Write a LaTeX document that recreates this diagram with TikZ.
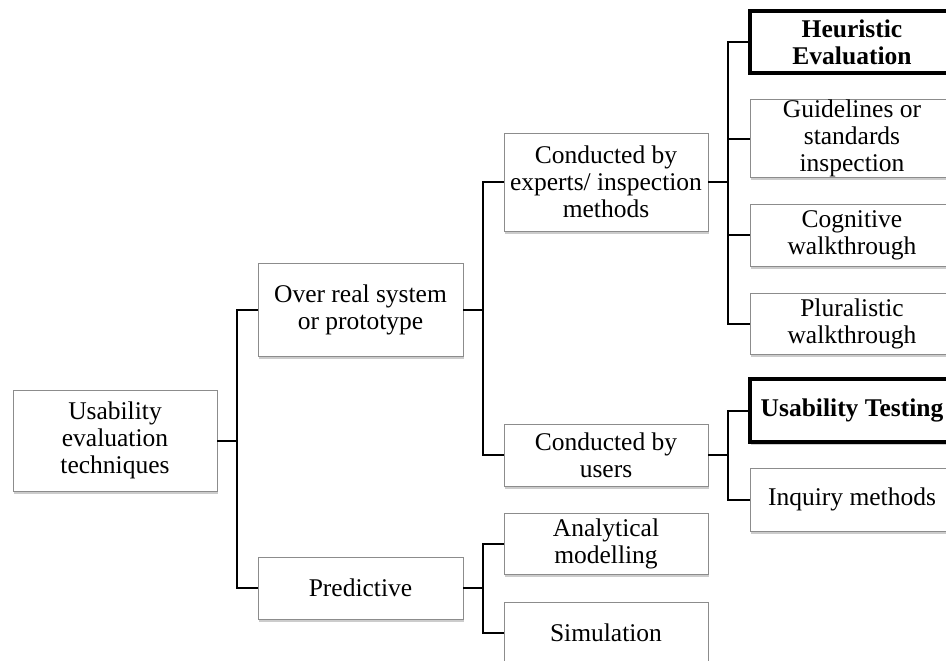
\documentclass[tikz,border=0pt]{standalone}
\usepackage{fontspec}
\setmainfont{Liberation Serif}
\usetikzlibrary{shadows}
\tikzset{
  box/.style={draw=black!45, line width=0.9pt, fill=white, inner sep=0pt,
    align=center, minimum width=204pt,
    font=\fontsize{25.5}{27}\selectfont,
    drop shadow={shadow xshift=1pt, shadow yshift=-2.5pt, fill=black, opacity=0.2}},
  boldbox/.style={box, draw=black, line width=3.2pt, font=\fontsize{25.5}{27}\selectfont\bfseries},
  conn/.style={draw=black, line width=2pt}
}
\begin{document}
\begin{tikzpicture}[x=1pt,y=-1pt]
\clip (0,0) rectangle (946,661);
\fill[white] (0,0) rectangle (946,661);
% level 0
\node[box, minimum height=101pt] (root) at (115,440.5) {Usability\\evaluation\\techniques};
% level 1
\node[box, minimum width=205pt, minimum height=93pt] (over) at (360.5,309.5) {Over real system\\or prototype};
\node[box, minimum width=205pt, minimum height=62pt] (pred) at (360.5,588) {Predictive};
% level 2
\node[box, minimum height=98pt] (exp) at (606,182) {Conducted by\\experts/ inspection\\methods};
\node[box, minimum height=62pt] (usr) at (606,455) {Conducted by\\users};
\node[box, minimum height=61pt] (ana) at (606,543.5) {Analytical\\modelling};
\node[box, minimum height=62pt] (sim) at (606,633) {Simulation};
% level 3
\node[boldbox, minimum height=62pt] (heu) at (852,42) {Heuristic\\Evaluation};
\node[box, minimum height=77pt] (gui) at (852,138.5) {Guidelines or\\standards\\inspection};
\node[box, minimum height=62pt] (cog) at (852,235) {Cognitive\\walkthrough};
\node[box, minimum height=61pt] (plu) at (852,323.5) {Pluralistic\\walkthrough};
\node[boldbox, minimum height=63pt] (ust) at (852,410.5) {Usability Testing};
\node[box, minimum height=63pt] (inq) at (852,499.5) {Inquiry methods};
% bus coordinates
\coordinate (b0) at (237,0);
\coordinate (b1) at (483,0);
\coordinate (b2) at (728,0);
% connectors
\draw[conn] (root.east) -- (root.east -| b0);
\draw[conn] (over.west) -- (over.west -| b0) -- (pred.west -| b0) -- (pred.west);

\draw[conn] (over.east) -- (over.east -| b1);
\draw[conn] (exp.west) -- (exp.west -| b1) -- (usr.west -| b1) -- (usr.west);
\draw[conn] (pred.east) -- (pred.east -| b1);
\draw[conn] (ana.west) -- (ana.west -| b1) -- (sim.west -| b1) -- (sim.west);

\draw[conn] (exp.east) -- (exp.east -| b2);
\draw[conn] (heu.west) -- (heu.west -| b2) -- (plu.west -| b2) -- (plu.west);
\draw[conn] (gui.west) -- (gui.west -| b2);
\draw[conn] (cog.west) -- (cog.west -| b2);
\draw[conn] (usr.east) -- (usr.east -| b2);
\draw[conn] (ust.west) -- (ust.west -| b2) -- (inq.west -| b2) -- (inq.west);
\end{tikzpicture}
\end{document}
